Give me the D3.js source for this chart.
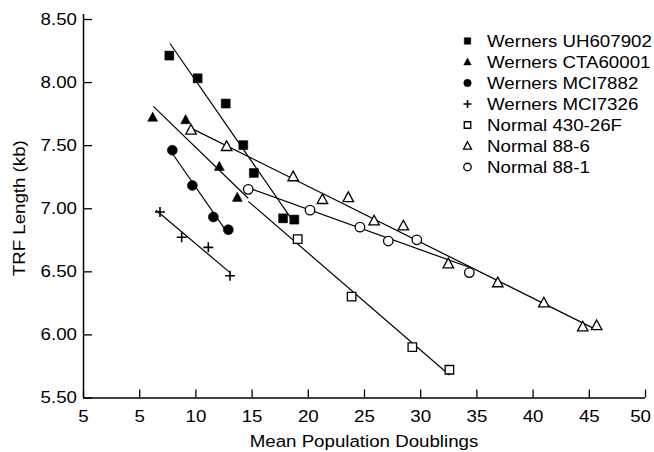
<!DOCTYPE html>
<html><head><meta charset="utf-8">
<script src="https://cdn.jsdelivr.net/npm/d3@7"></script>
<style>body{margin:0;background:#fff}svg{display:block}</style>
</head><body><svg id="c" width="654" height="452"></svg>
<script>
// ---- data ----
const seriesNames = ["Werners UH607902","Werners CTA60001","Werners MCI7882","Werners MCI7326","Normal 430-26F","Normal 88-6","Normal 88-1"];
const uhX  = [7.68, 10.2, 12.7, 14.26, 15.2, 17.8, 18.8];
const uhY  = [8.21, 8.03, 7.83, 7.50, 7.28, 6.92, 6.91];
const ctaX = [6.2, 9.13, 12.13, 13.73];
const ctaY = [7.72, 7.70, 7.33, 7.085];
const m82X = [7.95, 9.73, 11.6, 12.93];
const m82Y = [7.46, 7.18, 6.93, 6.83];
const m26X = [6.85, 8.78, 11.15, 13.08];
const m26Y = [6.97, 6.77, 6.69, 6.465];
const n430X = [19.1, 23.9, 29.3, 32.6];
const n430Y = [6.755, 6.30, 5.90, 5.72];
const n86X = [9.61, 12.78, 18.7, 21.3, 23.6, 25.9, 28.5, 32.5, 36.9, 41.0, 44.46, 45.7];
const n86Y = [7.62, 7.49, 7.25, 7.07, 7.085, 6.90, 6.86, 6.56, 6.41, 6.25, 6.06, 6.07];
const n81X = [14.7, 20.2, 24.64, 27.16, 29.7, 34.37];
const n81Y = [7.15, 6.985, 6.85, 6.74, 6.75, 6.49];
// x-extent of each regression line
const fitStart = [7.74, 6.26, 7.95, 6.5, 14.7, 9.61, 14.7];
const fitEnd   = [18.5, 14.7, 12.93, 13.08, 32.6, 45.3, 34.6];
const xTickValues = [0, 5, 10, 15, 20, 25, 30, 35, 40, 45, 50];
const xTickLabels = ["5", "5", "10", "15", "20", "25", "30", "35", "40", "45", "50"];
const yTickValues = [5.5, 6.0, 6.5, 7.0, 7.5, 8.0, 8.5];
const xTitle = "Mean Population Doublings";
const yTitle = "TRF Length (kb)";

const seriesX = [uhX, ctaX, m82X, m26X, n430X, n86X, n81X];
const seriesY = [uhY, ctaY, m82Y, m26Y, n430Y, n86Y, n81Y];
const shapes = ["square","triangle","circle","plus","square","triangle","circle"];
const filled = [true, true, true, false, false, false, false];

// ---- symbols ----
const sym = {
  square: { draw(ctx, s){ const r=s/2; ctx.rect(-r,-r,s,s); } },
  triangle: { draw(ctx, s){ const w=s/2, h=s*0.92; ctx.moveTo(0,-h*0.58); ctx.lineTo(w,h*0.42); ctx.lineTo(-w,h*0.42); ctx.closePath(); } },
  circle: { draw(ctx, s){ const r=s/2; ctx.moveTo(r,0); ctx.arc(0,0,r,0,2*Math.PI); } },
  plus: { draw(ctx, s){ const r=s/2; ctx.moveTo(-r,0); ctx.lineTo(r,0); ctx.moveTo(0,-r); ctx.lineTo(0,r); } }
};
const plotSize = {square:[9,8.5], triangle:[10,10.5], circle:[10,9.5], plus:[10,10]};
const legSize  = {square:[6.5,6.5], triangle:[7.5,8], circle:[7.5,7.5], plus:[8,8]};

const svg = d3.select("#c");
const FONT = "'Liberation Sans', Arial, Helvetica, sans-serif";
const SX = "scale(1.1,1)";

const x = d3.scaleLinear().domain([0, 50]).range([83, 645]);
const y = d3.scaleLinear().domain([5.5, 8.5]).range([397.5, 19]);

// axes
const xAxis = d3.axisBottom(x).tickValues(xTickValues).tickSize(-8).tickPadding(12)
  .tickFormat((d,i) => xTickLabels[i]);
const gx = svg.append("g").attr("transform", `translate(0,${y(5.5)})`).call(xAxis);
const yAxis = d3.axisLeft(y).tickValues(yTickValues).tickSize(-9).tickPadding(5.5)
  .tickFormat(d3.format(".2f"));
const gy = svg.append("g").attr("transform", `translate(${x(0)},0)`).call(yAxis);
[gx, gy].forEach(g => {
  g.select(".domain").attr("stroke", "#000").attr("stroke-width", 1.5);
  g.selectAll(".tick line").attr("stroke", "#000").attr("stroke-width", 1.3);
  g.selectAll(".tick text").attr("fill", "#000").style("font-family", FONT).style("font-size", "17px")
    .attr("transform", SX);
});
// keep the last x label inside the picture, as in the reference
gx.selectAll(".tick text").filter(d => d === 50).attr("x", -4.5);
gy.select(".domain").attr("d", `M0.5,${y(5.5)}V${y(8.5)-5}`);
gx.select(".domain").attr("d", `M${x(0)},0.5H${x(50)}`);

// titles
svg.append("text").attr("transform", `translate(${x(25)},446.5) ${SX}`)
  .attr("text-anchor", "middle").style("font-family", FONT).style("font-size", "17px").text(xTitle);
svg.append("text").attr("transform", `translate(25,${(y(5.5)+y(8.5))/2}) rotate(-90) ${SX}`)
  .attr("text-anchor", "middle").style("font-family", FONT).style("font-size", "17px").text(yTitle);

// regression lines
function fit(xs, ys){
  const mx = d3.mean(xs), my = d3.mean(ys);
  let sxy = 0, sxx = 0;
  xs.forEach((v,i) => { sxy += (v-mx)*(ys[i]-my); sxx += (v-mx)*(v-mx); });
  const m = sxy/sxx; return v => my + m*(v-mx);
}
const lines = svg.append("g");
seriesX.forEach((xs, i) => {
  const f = fit(xs, seriesY[i]);
  lines.append("line")
    .attr("x1", x(fitStart[i])).attr("y1", y(f(fitStart[i])))
    .attr("x2", x(fitEnd[i])).attr("y2", y(f(fitEnd[i])))
    .attr("stroke", "#000").attr("stroke-width", 1.2);
});

// markers
function marker(g, shape, fill, sz){
  g.append("path").attr("d", d3.symbol().type(sym[shape]).size(fill ? sz[0] : sz[1])())
    .attr("fill", shape === "plus" ? "none" : (fill ? "#000" : "#fff"))
    .attr("stroke", "#000").attr("stroke-width", shape === "plus" ? 1.6 : (fill ? 0.5 : 1.3));
}
const pts = svg.append("g");
seriesX.forEach((xs, i) => {
  xs.forEach((v, j) => {
    const g = pts.append("g").attr("transform", `translate(${x(v)},${y(seriesY[i][j])})`);
    marker(g, shapes[i], filled[i], plotSize[shapes[i]]);
  });
});

// legend
const leg = svg.append("g");
seriesNames.forEach((name, i) => {
  const cy = 41 + i*21;
  const g = leg.append("g").attr("transform", `translate(467.5,${cy})`);
  marker(g, shapes[i], filled[i], legSize[shapes[i]]);
  leg.append("text").attr("transform", `translate(487,${cy+6}) ${SX}`)
    .style("font-family", FONT).style("font-size", "17px").text(name);
});
</script></body></html>
